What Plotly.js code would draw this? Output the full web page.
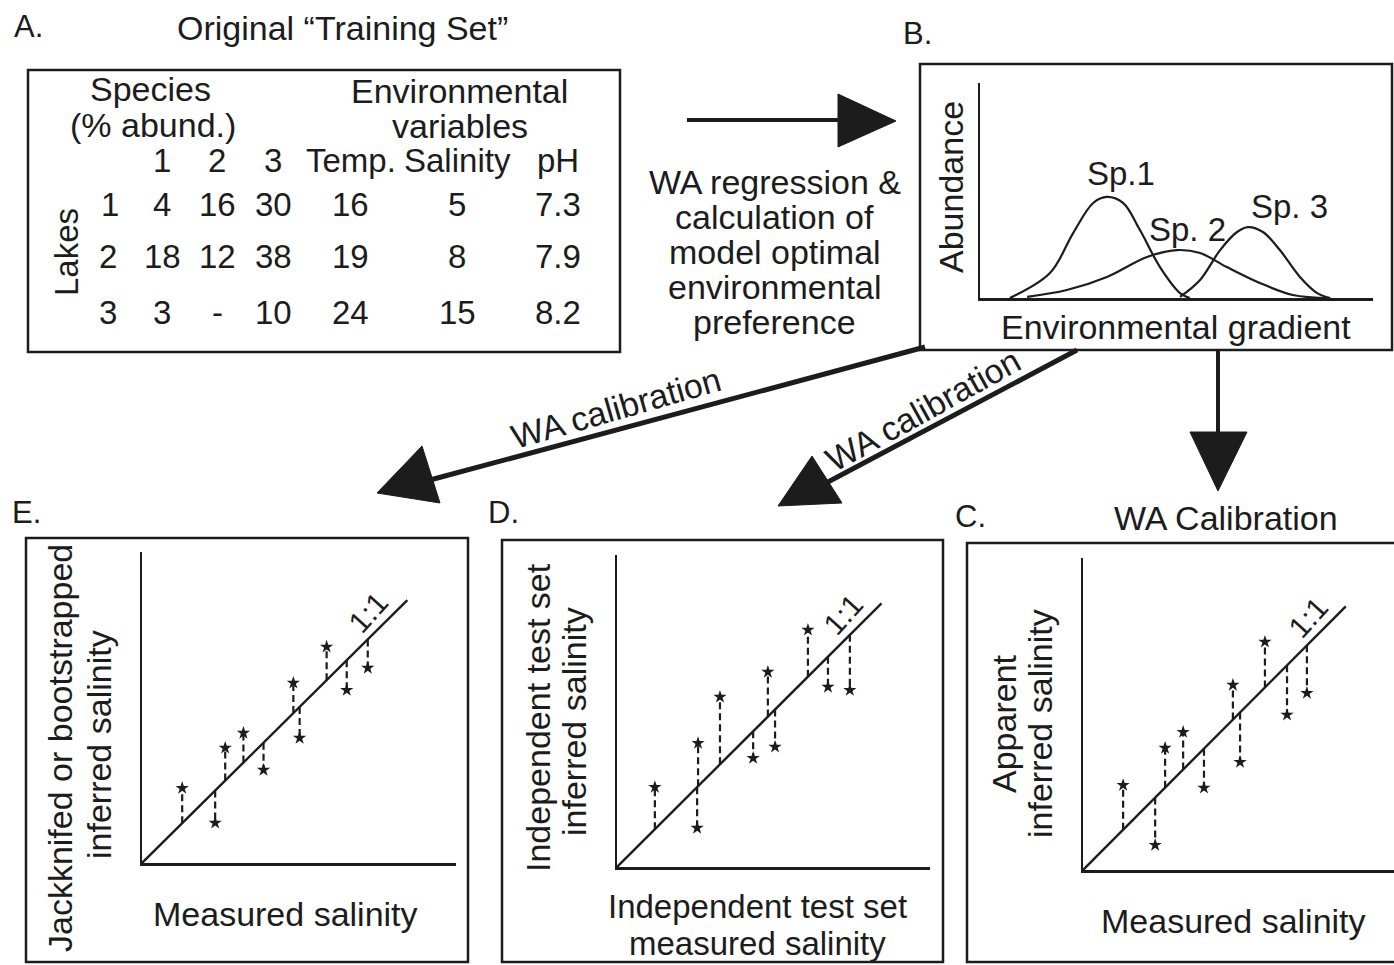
<!DOCTYPE html>
<html><head><meta charset="utf-8">
<script src="https://cdn.plot.ly/plotly-3.0.1.min.js"></script>
<style>html,body{margin:0;padding:0;background:#fff}</style>
</head><body><div id="chart" style="width:1394px;height:965px"></div>
<script>
// ---------- DATA ----------
// Panel A: original training set table
const speciesCols = ['1', '2', '3'];
const envCols = ['Temp.', 'Salinity', 'pH'];
const lakeIds = ['1', '2', '3'];
const sp1Abund = ['4', '18', '3'];
const sp2Abund = ['16', '12', '-'];
const sp3Abund = ['30', '38', '10'];
const tempVals = ['16', '19', '24'];
const salinityVals = ['5', '8', '15'];
const phVals = ['7.3', '7.9', '8.2'];

// Panel B: species response curves along the environmental gradient
const sp1Gradient = [0.76, 1.78, 2.37, 2.88, 3.23, 3.64, 4.07, 4.58, 5.09, 5.34];
const sp1Abundance = [0, 1.16, 3.02, 4.42, 4.70, 4.42, 3.16, 1.44, 0.23, 0];
const sp2Gradient = [1.20, 2.21, 3.23, 4.25, 5.01, 5.60, 6.28, 7.12, 7.96, 8.91];
const sp2Abundance = [0.05, 0.37, 0.98, 1.91, 2.23, 2.09, 1.44, 0.70, 0.14, 0];
const sp3Gradient = [5.09, 5.60, 6.11, 6.54, 6.82, 7.20, 7.63, 8.14, 8.58, 8.91];
const sp3Abundance = [0.05, 0.84, 2.23, 3.07, 3.30, 3.07, 2.23, 0.98, 0.23, 0];
const speciesLabels = ['Sp.1', 'Sp. 2', 'Sp. 3'];

// Panel E: jackknifed / bootstrapped
const eMeasured = [1.28, 2.33, 2.65, 3.23, 3.87, 4.82, 5.02, 5.88, 6.52, 7.19];
const eInferred = [2.41, 1.29, 3.70, 4.18, 2.99, 5.79, 4.02, 6.95, 5.56, 6.27];
// Panel D: independent test set
const dMeasured = [1.21, 2.56, 2.59, 3.29, 4.35, 4.82, 5.05, 6.10, 6.74, 7.44];
const dInferred = [2.56, 1.25, 3.97, 5.45, 3.49, 6.25, 3.85, 7.60, 5.77, 5.67];
// Panel C: apparent
const cMeasured = [1.29, 2.32, 2.64, 3.22, 3.89, 4.82, 5.05, 5.85, 6.56, 7.20];
const cInferred = [2.72, 0.80, 3.91, 4.42, 2.63, 5.93, 3.46, 7.31, 4.97, 5.67];
const oneToOne = [0, 8.45];

// ---------- LAYOUT HELPERS ----------
const W = 1394, H = 965;
const FONT = '"Liberation Sans", Arial, Helvetica, sans-serif';
const INK = '#1c1c1c';
const px = x => x / W;
const py = y => 1 - y / H;
const annotations = [];
const shapes = [];
function label(text, x, y, size, extra) {
  annotations.push(Object.assign({
    text: text, x: px(x), y: py(y), xref: 'paper', yref: 'paper',
    showarrow: false, xanchor: 'center', yanchor: 'middle',
    font: {family: FONT, size: size, color: INK}
  }, extra || {}));
}
function box(x0, y0, x1, y1) {
  shapes.push({type: 'rect', xref: 'paper', yref: 'paper',
    x0: px(x0), x1: px(x1), y0: py(y1), y1: py(y0),
    line: {color: INK, width: 2.5}});
}
function seg(x0, y0, x1, y1, w) {
  shapes.push({type: 'line', xref: 'paper', yref: 'paper',
    x0: px(x0), x1: px(x1), y0: py(y0), y1: py(y1),
    line: {color: INK, width: w}});
}
function tri(a, b, c) {
  const p = q => px(q[0]).toFixed(5) + ',' + py(q[1]).toFixed(5);
  shapes.push({type: 'path', xref: 'paper', yref: 'paper',
    path: 'M' + p(a) + ' L' + p(b) + ' L' + p(c) + ' Z',
    fillcolor: INK, line: {color: INK, width: 1}});
}
const F = 34;

// ---------- PANEL A ----------
label('A.', 29, 26, 31);
label('Original \u201cTraining Set\u201d', 342, 28, F);
box(28, 70, 620, 352);
label('Species', 150, 89, F);
label('(% abund.)', 153, 125, F);
label('Environmental', 460, 91, F);
label('variables', 460, 126, F);
const colX = [162, 217, 273, 351, 457, 558];
const headers = speciesCols.concat(envCols);
headers.forEach((h, i) => label(h, colX[i], 161, 33));
const rowY = [204, 256, 312];
const lakeX = [110, 108, 108];
lakeIds.forEach((l, r) => {
  const vals = [sp1Abund[r], sp2Abund[r], sp3Abund[r], tempVals[r], salinityVals[r], phVals[r]];
  label(l, lakeX[r], rowY[r], 33);
  vals.forEach((v, i) => label(v, colX[i], rowY[r], 33));
});
label('Lakes', 66, 252, 33, {textangle: -90});

// middle text + arrow A->B
['WA regression &', 'calculation of', 'model optimal', 'environmental', 'preference']
  .forEach((t, i) => label(t, 775, 182 + i * 35, F));
seg(687, 120, 850, 120, 4);
tri([838, 94], [896, 121], [838, 147]);

// ---------- PANEL B ----------
label('B.', 917, 33, 31);
box(920, 64, 1392, 350);
label('Abundance', 951, 187, F, {textangle: -90});
label('Environmental gradient', 1176, 327, F);
label(speciesLabels[0], 1121, 173, 33);
label(speciesLabels[1], 1187, 229, 33);
label(speciesLabels[2], 1289, 206, 33);

// arrows from B
seg(925, 347, 430, 480, 5);
tri([377, 493], [422, 446], [440, 503]);
label('WA calibration', 616, 408, F, {textangle: -16});
seg(1077, 350, 826, 483, 5);
tri([778, 506], [812, 456], [842, 503]);
label('WA calibration', 923, 410, F, {textangle: -29});
seg(1218, 350, 1218, 440, 4);
tri([1190, 432], [1247, 432], [1218, 491]);

// ---------- PANELS E, D, C ----------
label('E.', 27, 512, 31);
box(26, 538, 468, 962);
label('Jackknifed or bootstrapped', 60, 748, F, {textangle: -90});
label('inferred salinity', 99, 745, F, {textangle: -90});
label('Measured salinity', 285, 914, F);
label('1:1', 368, 612, 30, {textangle: -48});

label('D.', 503, 512, 31);
box(502, 540, 943, 962);
label('Independent test set', 538, 718, F, {textangle: -90});
label('inferred salinity', 574, 722, F, {textangle: -90});
label('Independent test set', 757, 906, 33);
label('measured salinity', 757, 943, 33);
label('1:1', 843, 614, 30, {textangle: -48});

label('C.', 970, 516, 31);
label('WA Calibration', 1226, 518, F);
box(967, 543, 1400, 962);
label('Apparent', 1004, 724, F, {textangle: -90});
label('inferred salinity', 1040, 724, F, {textangle: -90});
label('Measured salinity', 1233, 921, F);
label('1:1', 1308, 617, 30, {textangle: -48});

// ---------- TRACES ----------
const traces = [];
function curve(x, y, ax) {
  traces.push({x: x, y: y, xaxis: 'x' + ax, yaxis: 'y' + ax, mode: 'lines',
    line: {color: INK, width: 2.2, shape: 'spline', smoothing: 1.0},
    hoverinfo: 'skip', showlegend: false});
}
curve(sp1Gradient, sp1Abundance, '');
curve(sp2Gradient, sp2Abundance, '');
curve(sp3Gradient, sp3Abundance, '');

function calPanel(meas, inf, ax) {
  traces.push({x: oneToOne, y: oneToOne, xaxis: 'x' + ax, yaxis: 'y' + ax, mode: 'lines',
    line: {color: INK, width: 2.4}, hoverinfo: 'skip', showlegend: false});
  const rx = [], ry = [];
  meas.forEach((m, i) => { rx.push(m, m, null); ry.push(m, inf[i], null); });
  traces.push({x: rx, y: ry, xaxis: 'x' + ax, yaxis: 'y' + ax, mode: 'lines',
    line: {color: INK, width: 2.2, dash: '7px,4px'}, hoverinfo: 'skip', showlegend: false});
  traces.push({x: meas, y: inf, xaxis: 'x' + ax, yaxis: 'y' + ax, mode: 'markers',
    marker: {symbol: 'star', size: 10, color: INK, line: {width: 0}},
    hoverinfo: 'skip', showlegend: false});
}
calPanel(eMeasured, eInferred, '2');
calPanel(dMeasured, dInferred, '3');
calPanel(cMeasured, cInferred, '4');

function ax(domain, anchor) {
  return {domain: domain, anchor: anchor, range: [0, 10], showline: true, linecolor: INK,
    linewidth: 2.5, showgrid: false, zeroline: false, showticklabels: false, ticks: '',
    fixedrange: true};
}
const layout = {
  width: W, height: H, margin: {l: 0, r: 0, t: 0, b: 0},
  paper_bgcolor: '#fff', plot_bgcolor: 'rgba(0,0,0,0)', showlegend: false,
  xaxis: ax([px(980), px(1373)], 'y'),
  yaxis: ax([py(298), py(83)], 'x'),
  xaxis2: ax([px(142), px(456)], 'y2'),
  yaxis2: ax([py(863), py(552)], 'x2'),
  xaxis3: ax([px(617), px(930)], 'y3'),
  yaxis3: ax([py(867), py(555)], 'x3'),
  xaxis4: ax([px(1083), 1], 'y4'),
  yaxis4: ax([py(870), py(558)], 'x4'),
  annotations: annotations, shapes: shapes
};
Plotly.newPlot('chart', traces, layout, {staticPlot: true, displayModeBar: false});
</script></body></html>
